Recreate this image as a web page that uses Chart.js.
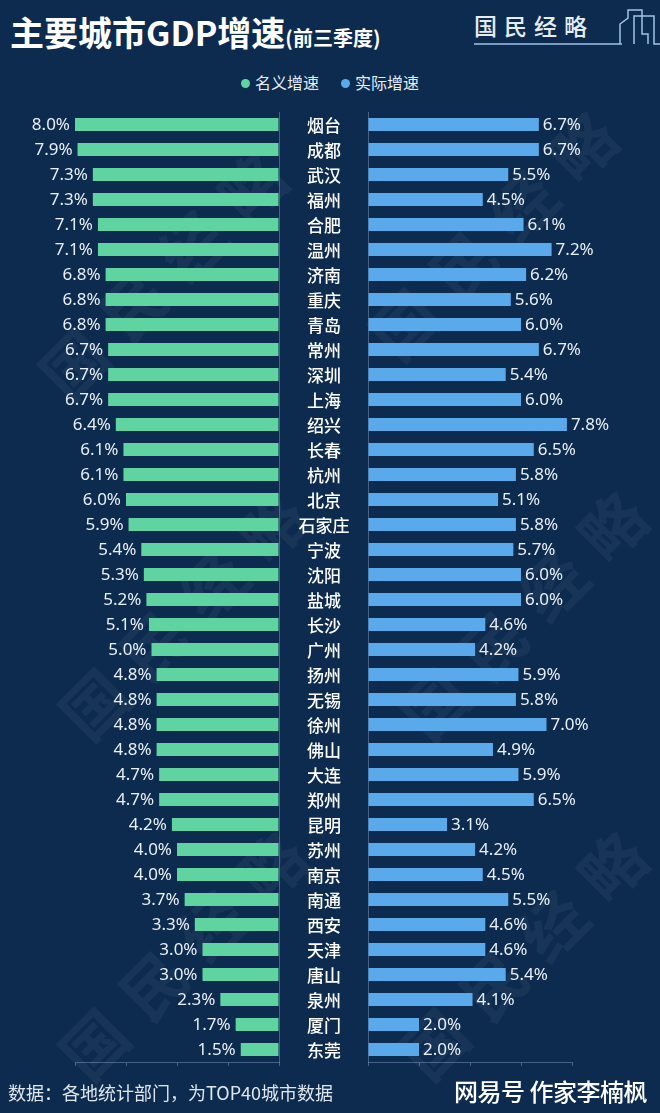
<!DOCTYPE html>
<html><head><meta charset="utf-8">
<script src="https://cdn.jsdelivr.net/npm/chart.js@4"></script>
<style>
html,body{margin:0;padding:0;}
body{width:660px;height:1113px;background:#0c2b4e;position:relative;overflow:hidden;font-family:"Noto Sans CJK SC","Noto Sans",sans-serif;color:#fff;}
#title{position:absolute;left:10px;top:7px;font-weight:700;font-size:34px;white-space:nowrap;}
#title small{font-size:20px;font-weight:700;}
#logo{position:absolute;left:472px;top:6px;width:190px;height:40px;}
#logo span{position:absolute;left:2px;top:2px;font-size:23px;letter-spacing:7px;color:#e6ecf2;font-weight:500;font-family:"Noto Sans CJK SC";}
#legend{position:absolute;top:70px;left:0;width:660px;text-align:center;font-size:16px;color:#e8eef5;}
#legend i{display:inline-block;width:9px;height:9px;border-radius:50%;margin-right:5px;vertical-align:1px;}
.wm{position:absolute;font-size:64px;color:rgba(255,255,255,0.05);transform:rotate(-45deg);white-space:nowrap;font-weight:700;letter-spacing:20px;}
canvas{position:absolute;top:0;}
#footer{position:absolute;left:8px;top:1079px;font-size:18px;color:#dfe6ee;}
#net{position:absolute;left:454px;top:1073px;font-size:24px;color:#fff;font-weight:500;letter-spacing:-0.5px;}
</style></head>
<body>
<div class="wm" style="left:0px;top:220px;">国民经略</div>
<div class="wm" style="left:330px;top:180px;">国民经略</div>
<div class="wm" style="left:20px;top:560px;">国民经略</div>
<div class="wm" style="left:360px;top:560px;">国民经略</div>
<div class="wm" style="left:20px;top:900px;">国民经略</div>
<div class="wm" style="left:360px;top:900px;">国民经略</div>
<div id="title">主要城市GDP增速<small>(前三季度)</small></div>
<div id="logo"><span>国民经略</span>
<svg width="190" height="40" style="position:absolute;left:0;top:0">
<polyline points="2,38 150,38" stroke="#9fc3e6" stroke-width="1.5" fill="none"/>
<polyline points="148,38 148,18 156,12 156,4 170,4 170,28 176,28 176,38" stroke="#9fc3e6" stroke-width="1.5" fill="none"/>
<polyline points="162,38 162,10 182,10 182,38 188,38" stroke="#9fc3e6" stroke-width="1.5" fill="none"/>
</svg></div>
<div id="legend"><i style="background:#5fd4a0"></i>名义增速<span style="display:inline-block;width:22px"></span><i style="background:#5aaaeb"></i>实际增速</div>
<canvas id="left" width="280" height="1080" style="left:0;width:280px;height:1080px"></canvas>
<canvas id="right" width="380" height="1080" style="left:280px;width:380px;height:1080px"></canvas>
<div id="footer">数据：各地统计部门，为TOP40城市数据</div>
<div id="net">网易号 作家李楠枫</div>
<script>
const cities = ["烟台","成都","武汉","福州","合肥","温州","济南","重庆","青岛","常州","深圳","上海","绍兴","长春","杭州","北京","石家庄","宁波","沈阳","盐城","长沙","广州","扬州","无锡","徐州","佛山","大连","郑州","昆明","苏州","南京","南通","西安","天津","唐山","泉州","厦门","东莞"];
const nominal = [8.0,7.9,7.3,7.3,7.1,7.1,6.8,6.8,6.8,6.7,6.7,6.7,6.4,6.1,6.1,6.0,5.9,5.4,5.3,5.2,5.1,5.0,4.8,4.8,4.8,4.8,4.7,4.7,4.2,4.0,4.0,3.7,3.3,3.0,3.0,2.3,1.7,1.5];
const real = [6.7,6.7,5.5,4.5,6.1,7.2,6.2,5.6,6.0,6.7,5.4,6.0,7.8,6.5,5.8,5.1,5.8,5.7,6.0,6.0,4.6,4.2,5.9,5.8,7.0,4.9,5.9,6.5,3.1,4.2,4.5,5.5,4.6,4.6,5.4,4.1,2.0,2.0];
const xTicks = [0,2,4,6,8];

const axisColor = 'rgba(140,165,200,0.45)';
const labelFont = '17px "Noto Sans", sans-serif';

const valueLabels = (side) => ({
  id: 'vl' + side,
  afterDatasetsDraw(chart) {
    const ctx = chart.ctx;
    const meta = chart.getDatasetMeta(0);
    const data = chart.data.datasets[0].data;
    ctx.save();
    ctx.font = labelFont;
    ctx.fillStyle = '#e9eff6';
    ctx.textBaseline = 'middle';
    meta.data.forEach((bar, i) => {
      const t = data[i].toFixed(1) + '%';
      if (side === 'L') { ctx.textAlign = 'right'; ctx.fillText(t, bar.x - 5, bar.y + 1); }
      else { ctx.textAlign = 'left'; ctx.fillText(t, bar.x + 4, bar.y + 1); }
    });
    ctx.restore();
  }
});

const cityLabels = {
  id: 'cities',
  afterDraw(chart) {
    const ctx = chart.ctx;
    const ys = chart.scales.y;
    const cx = chart.chartArea.left - 44;
    ctx.save();
    ctx.font = '500 17px "Noto Sans CJK SC", sans-serif';
    ctx.fillStyle = '#ffffff';
    ctx.textAlign = 'center';
    ctx.textBaseline = 'middle';
    chart.data.labels.forEach((lab, i) => {
      ctx.fillText(lab, cx, ys.getPixelForValue(i) + 1);
    });
    ctx.restore();
  }
};

function xScale(reverse) {
  return {
    type: 'linear', min: 0, max: 8, reverse: reverse,
    afterBuildTicks: s => { s.ticks = xTicks.map(v => ({value: v})); },
    ticks: { display: false },
    grid: { display: true, drawOnChartArea: false, drawTicks: true, tickLength: 4, color: axisColor },
    border: { display: true, color: axisColor },
    afterFit: s => { s.height = 18; }
  };
}

new Chart(document.getElementById('left'), {
  type: 'bar',
  data: { labels: cities, datasets: [{ data: nominal, backgroundColor: '#5fd4a0', barPercentage: 0.52, categoryPercentage: 1.0 }] },
  options: {
    indexAxis: 'y', responsive: false, animation: false,
    layout: { padding: { top: 112, left: 75, right: 0, bottom: 0 } },
    plugins: { legend: { display: false }, tooltip: { enabled: false } },
    scales: {
      x: xScale(true),
      y: { position: 'right', ticks: { display: false }, grid: { display: false },
           border: { display: true, color: axisColor }, afterFit: s => { s.width = 1; } }
    }
  },
  plugins: [valueLabels('L')]
});

new Chart(document.getElementById('right'), {
  type: 'bar',
  data: { labels: cities, datasets: [{ data: real, backgroundColor: '#5aaaeb', barPercentage: 0.52, categoryPercentage: 1.0 }] },
  options: {
    indexAxis: 'y', responsive: false, animation: false,
    layout: { padding: { top: 112, left: 87, right: 88, bottom: 0 } },
    plugins: { legend: { display: false }, tooltip: { enabled: false } },
    scales: {
      x: xScale(false),
      y: { position: 'left', ticks: { display: false }, grid: { display: false },
           border: { display: true, color: axisColor }, afterFit: s => { s.width = 1; } }
    }
  },
  plugins: [valueLabels('R'), cityLabels]
});
</script>
</body></html>
